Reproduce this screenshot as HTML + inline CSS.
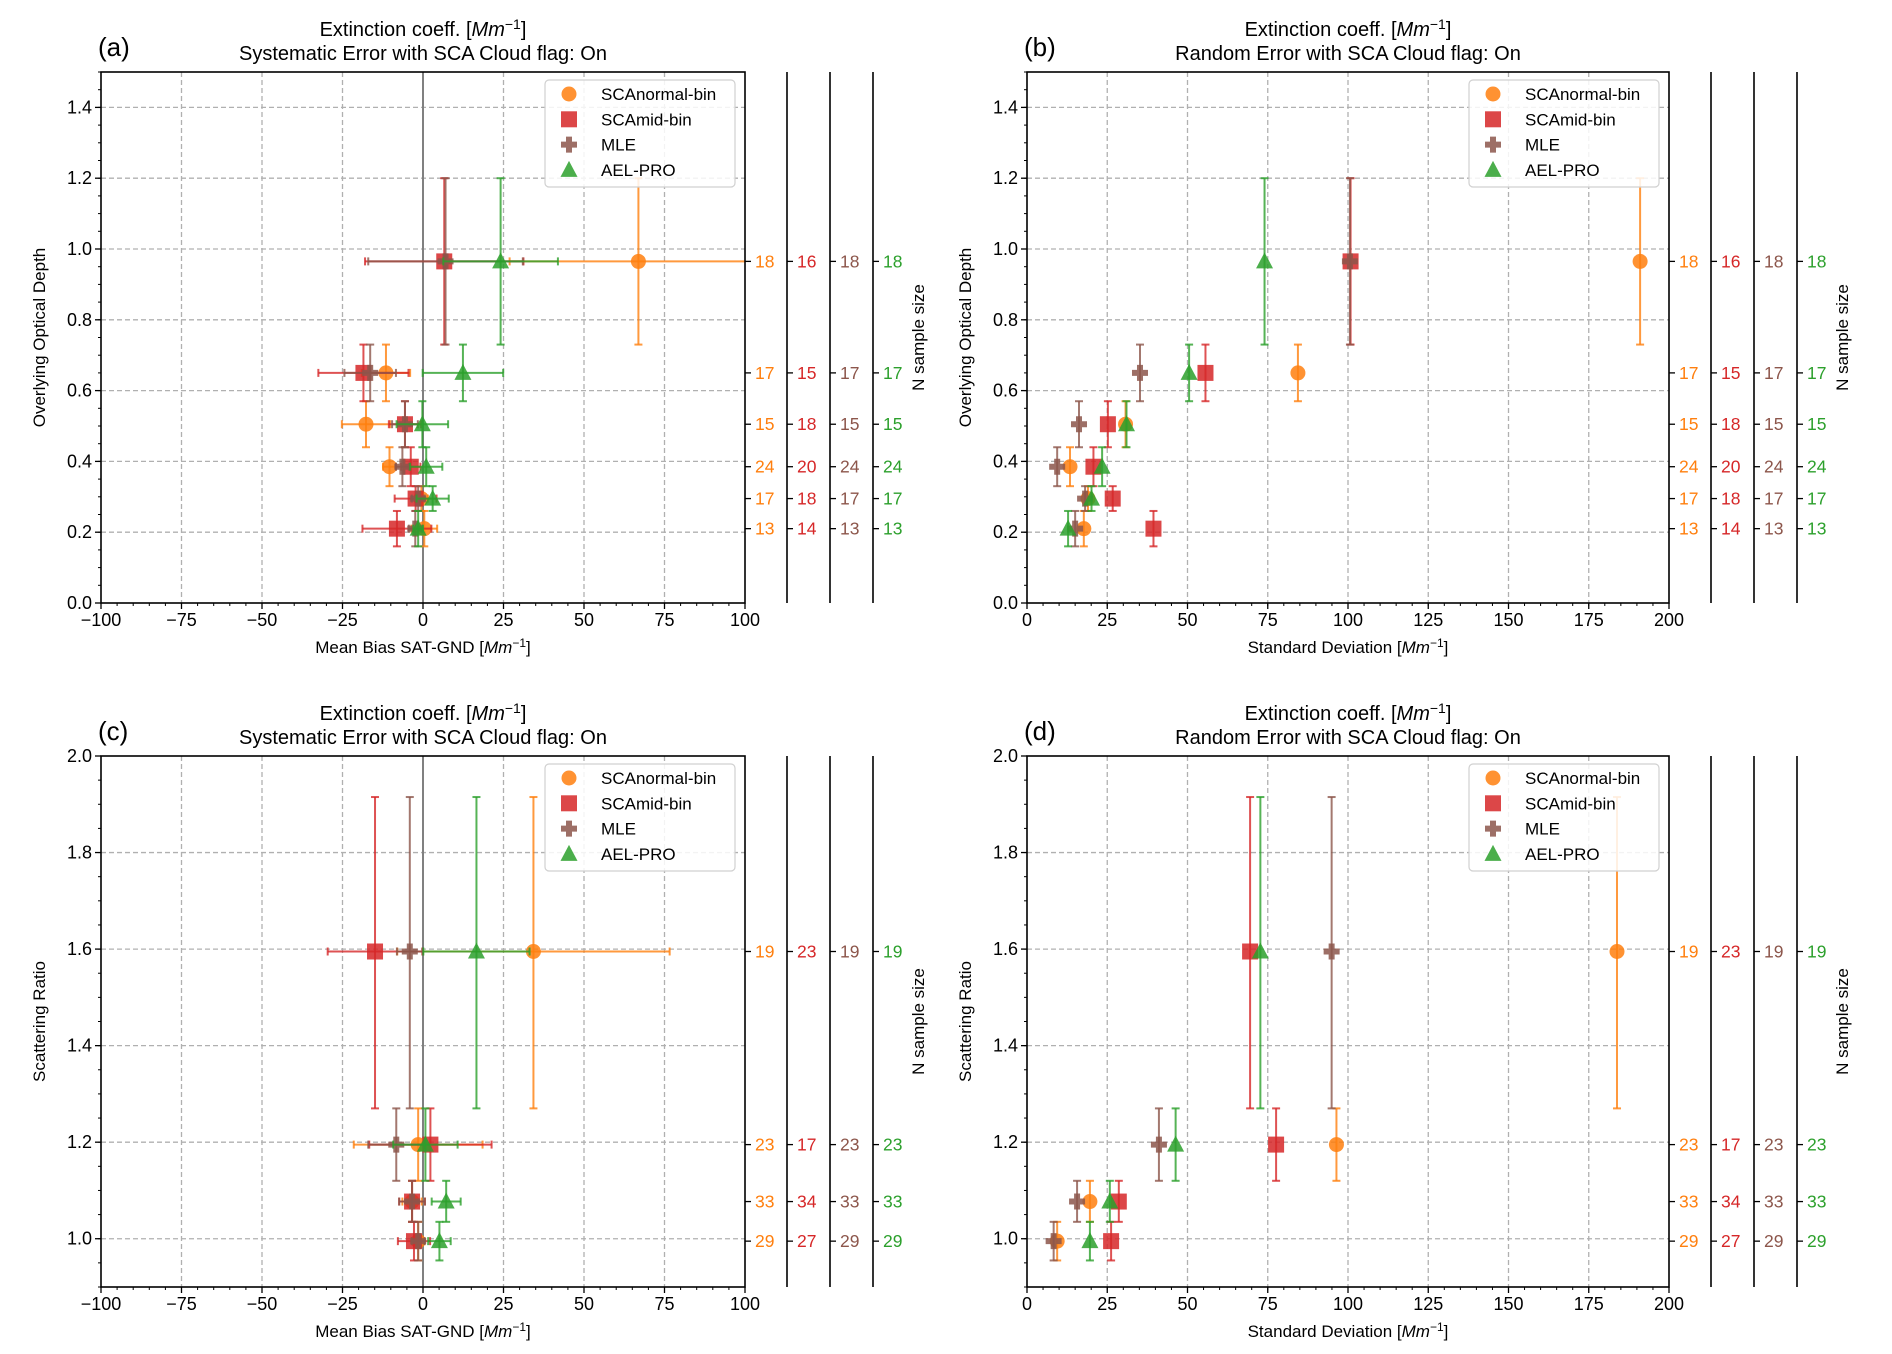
<!DOCTYPE html>
<html><head><meta charset="utf-8"><title>Extinction coefficient error panels</title>
<style>
html,body{margin:0;padding:0;background:#fff;}
svg{display:block;font-family:"Liberation Sans","DejaVu Sans",sans-serif;}
</style></head>
<body>
<svg id="fig" width="1892" height="1354" viewBox="0 0 1892 1354" xmlns="http://www.w3.org/2000/svg"></svg>
<script>
// ---------- DATA ----------
const seriesNames = ["SCAnormal-bin","SCAmid-bin","MLE","AEL-PRO"];
const seriesColors = ["#ff7f0e","#d62728","#8c564b","#2ca02c"];
// top panels (a,b): overlying optical depth bins
const aodY = [0.965,0.65,0.505,0.385,0.295,0.21];
const aodYLo = [0.73,0.57,0.44,0.33,0.26,0.16];
const aodYHi = [1.2,0.73,0.57,0.44,0.33,0.26];
const aBiasNormal = [66.9,-11.5,-17.7,-10.4,-0.5,0.4];
const aErrNormal = [40,7.5,7.5,2,2,4];
const aBiasMid = [6.6,-18.5,-5.6,-3.8,-2.3,-8.1];
const aErrMid = [24.6,14,5,3,6.5,10.7];
const aBiasMLE = [7,-16.4,-5.6,-6.4,-1.5,-2.4];
const aErrMLE = [24,8,4,2,2,2];
const aBiasAEL = [24.1,12.4,-0.2,1,3,-1.5];
const aErrAEL = [17.8,12.5,8,5,5,1.5];
const bStdNormal = [191,84.4,30.7,13.4,19,17.7];
const bStdMid = [100.8,55.6,25.2,20.7,26.7,39.4];
const bStdMLE = [100.6,35.2,16.2,9.4,18.1,15];
const bStdAEL = [74,50.5,31,23.4,20.1,12.8];
const aodCountNormal = [18,17,15,24,17,13];
const aodCountMid = [16,15,18,20,18,14];
const aodCountMLE = [18,17,15,24,17,13];
const aodCountAEL = [18,17,15,24,17,13];
// bottom panels (c,d): scattering ratio bins
const srY = [1.595,1.195,1.077,0.995];
const srYLo = [1.27,1.12,1.035,0.955];
const srYHi = [1.915,1.27,1.12,1.035];
const cBiasNormal = [34.3,-1.5,-3.4,-1.5];
const cErrNormal = [42.3,20,3,2];
const cBiasMid = [-14.9,2.3,-3.4,-2.8];
const cErrMid = [14.7,19,4,5];
const cBiasMLE = [-4.1,-8.3,-3.4,-1.5];
const cErrMLE = [4,8.7,4,2];
const cBiasAEL = [16.6,0.75,7.2,5.1];
const cErrAEL = [16.5,10,4.5,3.5];
const dStdNormal = [183.8,96.4,19.6,9.4];
const dStdMid = [69.5,77.6,28.6,26.2];
const dStdMLE = [94.9,41.1,15.6,8.3];
const dStdAEL = [72.7,46.3,25.8,19.6];
const srCountNormal = [19,23,33,29];
const srCountMid = [23,17,34,27];
const srCountMLE = [19,23,33,29];
const srCountAEL = [19,23,33,29];
const biasTicks = [-100,-75,-50,-25,0,25,50,75,100];
const biasTickLabels = ["\u2212100","\u221275","\u221250","\u221225","0","25","50","75","100"];
const stdTicks = [0,25,50,75,100,125,150,175,200];
const stdTickLabels = ["0","25","50","75","100","125","150","175","200"];
const aodTicks = [0,0.2,0.4,0.6,0.8,1.0,1.2,1.4];
const aodTickLabels = ["0.0","0.2","0.4","0.6","0.8","1.0","1.2","1.4"];
const srTicks = [1.0,1.2,1.4,1.6,1.8,2.0];
const srTickLabels = ["1.0","1.2","1.4","1.6","1.8","2.0"];

// ---------- DRAW ----------
const NS = "http://www.w3.org/2000/svg";
const fig = document.getElementById('fig');
function el(tag, attrs, parent){
  const e = document.createElementNS(NS, tag);
  for (const k in attrs) e.setAttribute(k, attrs[k]);
  (parent||fig).appendChild(e);
  return e;
}
function txt(s, attrs, parent){ const t = el('text', attrs, parent); t.textContent = s; return t; }

function marker(g, kind, cx, cy, color){
  let m;
  if (kind===0) m = el('circle',{cx:cx,cy:cy,r:7.5,fill:color,'fill-opacity':0.85},g);
  else if (kind===1) m = el('rect',{x:cx-8,y:cy-8,width:16,height:16,fill:color,'fill-opacity':0.85},g);
  else if (kind===2) m = el('path',{d:`M${cx-3},${cy-8}h6v5h5v6h-5v5h-6v-5h-5v-6h5z`,fill:color,'fill-opacity':0.85},g);
  else m = el('path',{d:`M${cx},${cy-9}L${cx+8.5},${cy+7}L${cx-8.5},${cy+7}Z`,fill:color,'fill-opacity':0.85},g);
  return m;
}

function panel(o){
  const g = el('g',{});
  
  
  const L=o.L,R=o.R,T=o.T,B=o.B;
  const sx = v => L + (v-o.xmin)/(o.xmax-o.xmin)*(R-L);
  const sy = v => B - (v-o.ymin)/(o.ymax-o.ymin)*(B-T);
  const clip = 'clip-'+o.name;
  const cp = el('clipPath',{id:clip},g); el('rect',{x:L,y:T,width:R-L,height:B-T},cp);
  const grid = el('g',{stroke:'#b0b0b0','stroke-width':1.3,'stroke-dasharray':'5,3'},g);
   
  o.xticks.forEach(v=>{ if(v>o.xmin&&v<o.xmax) el('line',{x1:sx(v),x2:sx(v),y1:T,y2:B},grid); });
  o.yticks.forEach(v=>{ if(v>o.ymin&&v<o.ymax) el('line',{x1:L,x2:R,y1:sy(v),y2:sy(v)},grid); });
  if (o.zeroLine){ const z=el('line',{x1:sx(0),x2:sx(0),y1:T,y2:B,stroke:'#808080','stroke-width':2},g);   }
  const sg = el('g',{'clip-path':`url(#${clip})`},g);
  o.series.forEach((s,k)=>{
    const gs = el('g',{},sg);
    
    
    const col = seriesColors[k];
    s.x.forEach((xv,i)=>{
      const cx=sx(xv), cy=sy(o.y[i]);
      const eb = el('g',{stroke:col,'stroke-width':2,'stroke-opacity':0.8,fill:'none'},gs);
       
      const y1=sy(o.ylo[i]), y2=sy(o.yhi[i]);
      el('line',{x1:cx,x2:cx,y1:y1,y2:y2},eb);
      el('line',{x1:cx-4,x2:cx+4,y1:y1,y2:y1},eb);
      el('line',{x1:cx-4,x2:cx+4,y1:y2,y2:y2},eb);
      if (s.xerr){
        const x1=sx(xv-s.xerr[i]), x2=sx(xv+s.xerr[i]);
        el('line',{x1:x1,x2:x2,y1:cy,y2:cy},eb);
        el('line',{x1:x1,x2:x1,y1:cy-4,y2:cy+4},eb);
        el('line',{x1:x2,x2:x2,y1:cy-4,y2:cy+4},eb);
      }
      const m = marker(gs,k,cx,cy,col);
      
      
    });
  });
  const fr = el('rect',{x:L,y:T,width:R-L,height:B-T,fill:'none',stroke:'#000','stroke-width':1.6},g);
   
  const xt = el('g',{},g);  
  for(let v=o.xmin; v<=o.xmax+1e-9; v+=o.xminor){ el('line',{x1:sx(v),x2:sx(v),y1:B,y2:B+3,stroke:'#000','stroke-width':1},xt); }
  o.xticks.forEach((v,i)=>{
    el('line',{x1:sx(v),x2:sx(v),y1:B,y2:B+6,stroke:'#000','stroke-width':1.3},xt);
    const t=txt(o.xlabels[i],{x:sx(v),y:B+23,'font-size':18,'text-anchor':'middle',fill:'#000'},xt);
     
  });
  const yt = el('g',{},g);  
  for(let v=o.ymin; v<=o.ymax+1e-9; v+=o.yminor){ el('line',{x1:L-3,x2:L,y1:sy(v),y2:sy(v),stroke:'#000','stroke-width':1},yt); }
  o.yticks.forEach((v,i)=>{
    el('line',{x1:L-6,x2:L,y1:sy(v),y2:sy(v),stroke:'#000','stroke-width':1.3},yt);
    const t=txt(o.ylabels[i],{x:L-9,y:sy(v)+6,'font-size':18,'text-anchor':'end',fill:'#000'},yt);
     
  });
  const spines=[R, R+42, R+85, R+128];
  o.counts.forEach((arr,k)=>{
    const cg = el('g',{},g);
    
    
    const xs = spines[k];
    if (k>0) el('line',{x1:xs,x2:xs,y1:T,y2:B,stroke:'#000','stroke-width':1.6},cg);
    arr.forEach((c,i)=>{
      const cy=sy(o.y[i]);
      el('line',{x1:xs,x2:xs+6,y1:cy,y2:cy,stroke:'#000','stroke-width':1.3},cg);
      const t=txt(String(c),{x:xs+10,y:cy+6,'font-size':17.5,fill:seriesColors[k]},cg);
       
    });
  });
  const ns = txt('N sample size',{x:0,y:0,'font-size':17,'text-anchor':'middle',transform:`translate(${R+179},${(T+B)/2}) rotate(-90)`},g);
   
  const xl = txt('',{x:(L+R)/2,y:B+50,'font-size':17,'text-anchor':'middle'},g);
  xl.innerHTML = o.xtitle + ' [<tspan font-style="italic">Mm</tspan><tspan dy="-6" font-size="12">\u22121</tspan><tspan dy="6">]</tspan>';
   
  const yl = txt(o.ytitle,{x:0,y:0,'font-size':17,'text-anchor':'middle',transform:`translate(${L-56},${(T+B)/2}) rotate(-90)`},g);
   
  const t1 = txt('',{x:(L+R)/2,y:T-36,'font-size':20,'text-anchor':'middle'},g);
  t1.innerHTML = 'Extinction coeff. [<tspan font-style="italic">Mm</tspan><tspan dy="-7" font-size="14">\u22121</tspan><tspan dy="7">]</tspan>';
   
  const t2 = txt(o.subtitle,{x:(L+R)/2,y:T-12,'font-size':20,'text-anchor':'middle'},g);
   
  const pl = txt(o.letter,{x:L-3,y:T-16,'font-size':26},g);
   
  const lg = el('g',{},g);  
  const lx=R-200, ly=T+8;
  el('rect',{x:lx,y:ly,width:190,height:107,rx:4,fill:'#fff','fill-opacity':0.85,stroke:'#d0d0d0','stroke-width':1.2},lg);
  seriesNames.forEach((n,k)=>{
    const e = el('g',{},lg);
     
    const yy = ly+14+k*25.3;
    marker(e,k,lx+24,yy,seriesColors[k]);
    txt(n,{x:lx+56,y:yy+6,'font-size':17},e);
  });
}

panel({name:'panel-a',letter:'(a)',L:101,R:745,T:72,B:603,xmin:-100,xmax:100,ymin:0,ymax:1.5,xminor:5,yminor:0.05,
  xticks:biasTicks,xlabels:biasTickLabels,yticks:aodTicks,ylabels:aodTickLabels,zeroLine:true,
  y:aodY,ylo:aodYLo,yhi:aodYHi,xtitle:'Mean Bias SAT-GND',ytitle:'Overlying Optical Depth',
  subtitle:'Systematic Error with SCA Cloud flag: On',
  series:[{x:aBiasNormal,xerr:aErrNormal},{x:aBiasMid,xerr:aErrMid},{x:aBiasMLE,xerr:aErrMLE},{x:aBiasAEL,xerr:aErrAEL}],
  counts:[aodCountNormal,aodCountMid,aodCountMLE,aodCountAEL]});
panel({name:'panel-b',letter:'(b)',L:1027,R:1669,T:72,B:603,xmin:0,xmax:200,ymin:0,ymax:1.5,xminor:5,yminor:0.05,
  xticks:stdTicks,xlabels:stdTickLabels,yticks:aodTicks,ylabels:aodTickLabels,zeroLine:false,
  y:aodY,ylo:aodYLo,yhi:aodYHi,xtitle:'Standard Deviation',ytitle:'Overlying Optical Depth',
  subtitle:'Random Error with SCA Cloud flag: On',
  series:[{x:bStdNormal},{x:bStdMid},{x:bStdMLE},{x:bStdAEL}],
  counts:[aodCountNormal,aodCountMid,aodCountMLE,aodCountAEL]});
panel({name:'panel-c',letter:'(c)',L:101,R:745,T:756,B:1287,xmin:-100,xmax:100,ymin:0.9,ymax:2.0,xminor:5,yminor:0.05,
  xticks:biasTicks,xlabels:biasTickLabels,yticks:srTicks,ylabels:srTickLabels,zeroLine:true,
  y:srY,ylo:srYLo,yhi:srYHi,xtitle:'Mean Bias SAT-GND',ytitle:'Scattering Ratio',
  subtitle:'Systematic Error with SCA Cloud flag: On',
  series:[{x:cBiasNormal,xerr:cErrNormal},{x:cBiasMid,xerr:cErrMid},{x:cBiasMLE,xerr:cErrMLE},{x:cBiasAEL,xerr:cErrAEL}],
  counts:[srCountNormal,srCountMid,srCountMLE,srCountAEL]});
panel({name:'panel-d',letter:'(d)',L:1027,R:1669,T:756,B:1287,xmin:0,xmax:200,ymin:0.9,ymax:2.0,xminor:5,yminor:0.05,
  xticks:stdTicks,xlabels:stdTickLabels,yticks:srTicks,ylabels:srTickLabels,zeroLine:false,
  y:srY,ylo:srYLo,yhi:srYHi,xtitle:'Standard Deviation',ytitle:'Scattering Ratio',
  subtitle:'Random Error with SCA Cloud flag: On',
  series:[{x:dStdNormal},{x:dStdMid},{x:dStdMLE},{x:dStdAEL}],
  counts:[srCountNormal,srCountMid,srCountMLE,srCountAEL]});
</script>
</body></html>
